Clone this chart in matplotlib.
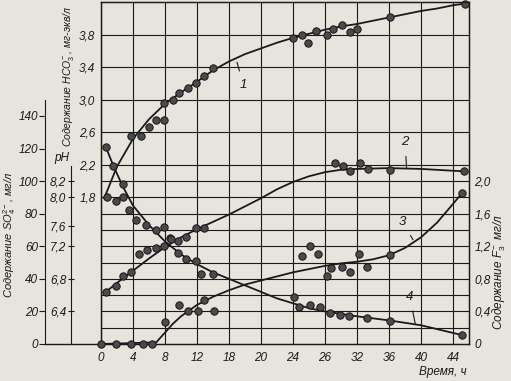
import matplotlib
matplotlib.use("Agg")
import matplotlib.pyplot as plt
from matplotlib import font_manager

names = {f.name for f in font_manager.fontManager.ttflist}
FAM = ['Liberation Sans Narrow'] if 'Liberation Sans Narrow' in names else ['Liberation Sans']
plt.rcParams['font.family'] = FAM + ['DejaVu Sans']
plt.rcParams['mathtext.fontset'] = 'custom'
plt.rcParams['mathtext.rm'] = FAM[0]
plt.rcParams['mathtext.it'] = FAM[0] + ':italic'

PAPER = '#e6e4dc'
INK = '#1a1a1a'

# ---------------- data ----------------
time_ticks = [0, 4, 8, 12, 16, 20, 24, 28, 32, 36, 40, 44]
time_labels = ['0', '4', '8', '12', '18', '20', '24', '26', '32', '36', '40', '44']

# Curve 1: HCO3-, mg-eq/l
hco3_t = [0.8, 3.8, 5.0, 6.05, 6.9, 7.9, 7.9, 9.0, 9.8, 10.9, 11.9, 12.9, 14.0,
          24.0, 25.1, 25.9, 26.9, 28.2, 29.0, 30.1, 31.1, 32.0, 36.1, 45.5]
hco3_v = [1.81, 2.55, 2.55, 2.67, 2.75, 2.75, 2.96, 3.00, 3.08, 3.14, 3.21, 3.29, 3.39,
          3.76, 3.80, 3.70, 3.84, 3.80, 3.87, 3.92, 3.83, 3.87, 4.02, 4.18]
hco3_line_t = [0.4, 2, 4, 6, 8, 10, 12, 14, 16, 18, 20, 22, 24, 26, 28, 30, 32, 34, 36,
               38, 40, 42, 44, 45.5]
hco3_line_v = [1.79, 2.18, 2.52, 2.76, 2.95, 3.09, 3.22, 3.36, 3.47, 3.56, 3.63, 3.70,
               3.76, 3.81, 3.86, 3.90, 3.93, 3.97, 4.01, 4.05, 4.09, 4.12, 4.16, 4.18]

# Curve 2: pH
ph_t = [0.6, 1.9, 2.7, 3.8, 4.8, 5.8, 6.9, 7.9, 8.8, 9.6, 10.6, 11.9, 12.9,
        29.2, 30.3, 31.1, 32.4, 33.4, 36.1, 45.4]
ph_v = [6.64, 6.71, 6.83, 6.89, 7.10, 7.15, 7.18, 7.20, 7.29, 7.26, 7.32, 7.42, 7.43,
        8.22, 8.18, 8.12, 8.22, 8.15, 8.14, 8.12]
ph_line_t = [0.6, 2, 4, 6, 8, 10, 12, 14, 16, 18, 20, 22, 24, 26, 28, 30, 32, 36, 40, 45.4]
ph_line_v = [6.64, 6.75, 6.90, 7.05, 7.19, 7.31, 7.41, 7.50, 7.59, 7.69, 7.79, 7.90,
             7.99, 8.06, 8.11, 8.14, 8.15, 8.16, 8.15, 8.12]

# Curve 3: F-, mg/l
f_t = [0.0, 1.9, 3.7, 5.3, 6.4, 8.05, 9.8, 10.9, 12.1, 12.9, 14.1,
       25.1, 26.1, 27.1, 28.2, 28.8, 30.1, 31.1, 32.2, 33.2, 36.1, 45.1]
f_v = [0.0, 0.0, 0.0, 0.0, 0.0, 0.27, 0.48, 0.40, 0.40, 0.54, 0.41,
       1.08, 1.20, 1.11, 0.83, 0.93, 0.95, 0.89, 1.11, 0.95, 1.09, 1.85]
f_line_t = [0.0, 6.9, 8, 9, 10, 12, 14, 16, 18, 20, 22, 24, 26, 28, 30, 32, 34, 36,
            38, 40, 42, 44, 45.1]
f_line_v = [0.0, 0.02, 0.14, 0.25, 0.34, 0.48, 0.58, 0.66, 0.73, 0.78, 0.83, 0.88,
            0.92, 0.96, 0.99, 1.01, 1.04, 1.09, 1.18, 1.31, 1.49, 1.72, 1.85]

# Curve 4: SO4 2-, mg/l
so4_t = [0.6, 1.5, 2.7, 1.9, 2.7, 3.5, 4.4, 5.6, 6.9, 7.9, 8.6, 9.6, 10.6, 11.9, 12.5, 14.0,
         24.1, 24.8, 26.1, 27.4, 28.6, 29.9, 31.0, 33.2, 36.1, 45.1]
so4_v = [121, 109, 98, 88, 90, 82, 76, 73, 70, 72, 65, 56, 52, 51, 43, 43,
         29, 23, 24, 23, 19, 18, 17, 16, 14, 5.5]
so4_line_t = [0.6, 1.5, 2.7, 4, 6, 8, 10, 12, 14, 16, 18, 20, 22, 24, 26, 28, 30, 32,
              36, 40, 45.1]
so4_line_v = [121, 110, 97, 85, 73, 63, 55, 49, 44, 40, 36, 32, 28, 25, 22, 20, 18.5,
              17, 14.5, 11.5, 5.5]

# axis ticks
hco3_ticks = [1.8, 2.2, 2.6, 3.0, 3.4, 3.8]
hco3_labels = ['1,8', '2,2', '2,6', '3,0', '3,4', '3,8']
f_ticks = [0, 0.4, 0.8, 1.2, 1.6, 2.0]
f_labels = ['0', '0,4', '0,8', '1,2', '1,6', '2,0']
so4_ticks = [0, 20, 40, 60, 80, 100, 120, 140]
so4_labels = ['0', '20', '40', '60', '80', '100', '120', '140']
ph_ticks = [6.4, 6.8, 7.2, 7.45, 7.8, 8.0]
ph_labels = ['6,4', '6,8', '7,2', '7,6', '8,0', '8,2']

hgrid = [0.2, 0.4, 0.6, 0.8, 1.0, 1.2, 1.4, 1.6, 1.8, 2.0, 2.2, 2.6, 3.0, 3.4, 3.8]

# ---------------- figure ----------------
fig = plt.figure(figsize=(5.11, 3.81), dpi=100, facecolor=PAPER)
W, H = 511, 381
ax = fig.add_axes([101 / W, 37 / H, 368 / W, 342 / H])
ax.set_facecolor(PAPER)
ax.set_xlim(0, 46)
ax.set_ylim(0, 4.2)

for v in hgrid:
    ax.axhline(v, color=INK, lw=0.8, zorder=1)
for v in time_ticks:
    ax.axvline(v, color=INK, lw=0.8, zorder=1)

for s in ax.spines.values():
    s.set_color(INK)
    s.set_linewidth(1.0)

txt = dict(fontstyle='italic', fontsize=8.5, color=INK)

ax.set_xticks(time_ticks)
ax.set_xticklabels(time_labels, **txt)
ax.tick_params(axis='x', length=0, pad=6)
ax.set_yticks(hco3_ticks)
ax.set_yticklabels(hco3_labels, **txt)
ax.tick_params(axis='y', length=0, pad=4)

mk = dict(marker='o', ms=5.3, mfc='#4a4a4a', mec='#151515', mew=0.7, ls='none', zorder=5, clip_on=False)
ln = dict(color=INK, lw=1.3, zorder=4, clip_on=False)

ax.plot(hco3_line_t, hco3_line_v, **ln)
ax.plot(hco3_t, hco3_v, **mk)

# right axis: F-
axr = ax.twinx()
axr.set_ylim(0, 4.2)
axr.set_yticks(f_ticks)
axr.set_yticklabels(f_labels, **txt)
axr.tick_params(axis='y', length=0, pad=4)
for s in axr.spines.values():
    s.set_color(INK)
axr.plot(f_line_t, f_line_v, **ln)
axr.plot(f_t, f_v, **mk)

# SO4 axis
axs = ax.twinx()
axs.set_ylim(0, 210)
for k in ['top', 'right', 'bottom']:
    axs.spines[k].set_visible(False)
axs.spines['left'].set_visible(True)
axs.spines['left'].set_position(('axes', -0.152))
axs.spines['left'].set_bounds(0, 150)
axs.spines['left'].set_color(INK)
axs.yaxis.set_ticks_position('left')
axs.set_yticks(so4_ticks)
axs.set_yticklabels(so4_labels, **txt)
axs.tick_params(axis='y', length=4, direction='out', pad=1, color=INK)
axs.plot(so4_line_t, so4_line_v, **ln)
axs.plot(so4_t, so4_v, **mk)

# pH axis
axp = ax.twinx()
axp.set_ylim(6.0, 10.2)
for k in ['top', 'right', 'bottom']:
    axp.spines[k].set_visible(False)
axp.spines['left'].set_visible(True)
axp.spines['left'].set_position(('axes', -0.0815))
axp.spines['left'].set_bounds(6.0, 8.19)
axp.spines['left'].set_color(INK)
axp.yaxis.set_ticks_position('left')
axp.set_yticks(ph_ticks)
axp.set_yticklabels(ph_labels, **txt)
axp.tick_params(axis='y', length=5, direction='inout', pad=1, color=INK)
axp.plot(ph_line_t, ph_line_v, **ln)
axp.plot(ph_t, ph_v, **mk)

ax.plot([-0.152, 0], [0, 0], transform=ax.transAxes, color=INK, lw=1.0, clip_on=False)

# axis titles
fig.text(10 / W, 1 - 235 / H, 'Содержание SO$_4^{2-}$, мг/л', rotation=90,
         ha='center', va='center', fontstyle='italic', fontsize=8, color=INK)
fig.text(62 / W, 1 - 158 / H, 'pH', ha='center', va='center', **txt)
fig.text(68 / W, 1 - 76 / H, 'Содержание HCO$_3^-$, мг-экв/л', rotation=90,
         ha='center', va='center', fontstyle='italic', fontsize=7.5, color=INK)
fig.text(499 / W, 1 - 272 / H, 'Содержание F$_3^-$ мг/л', rotation=90,
         ha='center', va='center', **txt)
fig.text(467 / W, 1 - 372 / H, 'Время, ч', ha='right', va='center', **txt)

# curve labels
lab = dict(fontstyle='italic', fontsize=9.5, color=INK, ha='center', va='center',
           arrowprops=dict(arrowstyle='-', color=INK, lw=0.8, shrinkA=4, shrinkB=0))
ax.annotate('1', xy=(17.0, 3.46), xytext=(17.8, 3.18), **lab)
ax.annotate('2', xy=(38.2, 2.16), xytext=(38.0, 2.48), **lab)
ax.annotate('3', xy=(39.0, 1.28), xytext=(37.7, 1.50), **lab)
ax.annotate('4', xy=(39.3, 0.24), xytext=(38.6, 0.58), **lab)

fig.savefig('out.png', dpi=100, facecolor=PAPER)
